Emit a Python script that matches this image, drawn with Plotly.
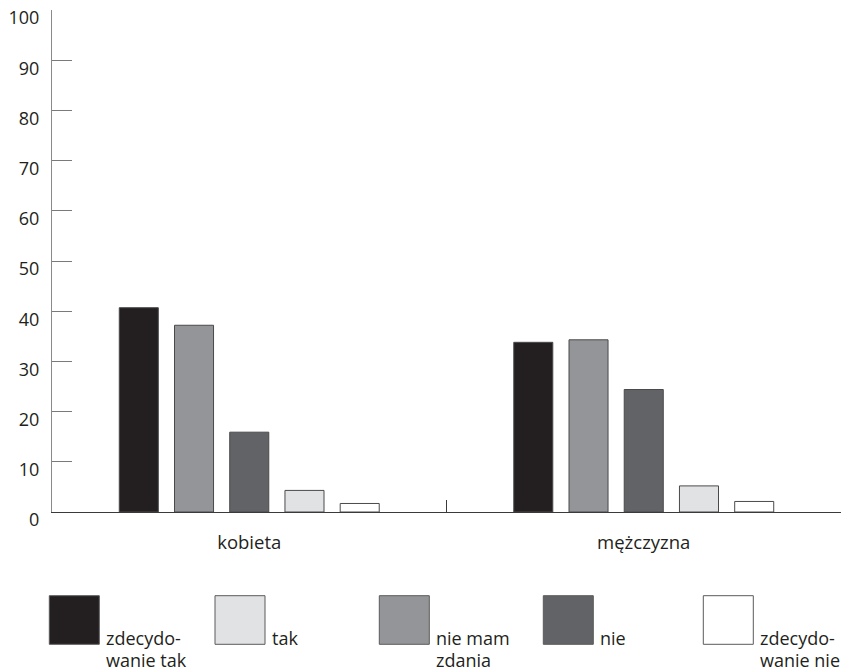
import plotly.graph_objects as go

# ---- data ----
categories = ["kobieta", "mężczyzna"]

# bar order within each group (as drawn in the reference)
series_names = ["zdecydowanie tak", "nie mam zdania", "nie", "tak", "zdecydowanie nie"]
zdecydowanie_tak = [40.7, 33.8]
nie_mam_zdania = [37.2, 34.3]
nie = [15.9, 24.4]
tak = [4.3, 5.2]
zdecydowanie_nie = [1.7, 2.1]
series_values = [zdecydowanie_tak, nie_mam_zdania, nie, tak, zdecydowanie_nie]

y_tickvals = list(range(0, 101, 10))

# legend (order as in the reference legend)
legend_series = ["zdecydowanie tak", "tak", "nie mam zdania", "nie", "zdecydowanie nie"]
legend_text = [["zdecydo-", "wanie tak"], ["tak"], ["nie mam", "zdania"], ["nie"], ["zdecydo-", "wanie nie"]]

# ---- styles ----
colors = {
    "zdecydowanie tak": "#231f20",
    "tak": "#e1e2e4",
    "nie mam zdania": "#939598",
    "nie": "#626366",
    "zdecydowanie nie": "#ffffff",
}
TEXT = "#231f20"
FONT = "Open Sans"

W, H = 847, 672
L, R, T, B = 52, 6, 10, 160
PW, PH = W - L - R, H - T - B


def px_x(px):
    return (px - L) / PW


def px_y(py):
    return (H - B - py) / PH


fig = go.Figure()
for name, vals in zip(series_names, series_values):
    fig.add_trace(go.Bar(
        x=categories, y=vals, name=name,
        marker=dict(color=colors[name], line=dict(color="#4a4a4a", width=1)),
        showlegend=False,
    ))

fig.update_layout(
    width=W, height=H,
    margin=dict(l=L, r=R, t=T, b=B, pad=0),
    paper_bgcolor="white", plot_bgcolor="white",
    barmode="group", bargap=0.30, bargroupgap=0.293,
    font=dict(family=FONT, size=18, color=TEXT),
)

fig.update_yaxes(
    range=[0, 100], tickvals=y_tickvals, showgrid=False, zeroline=False,
    showline=True, linecolor="#8a8a8a", linewidth=1,
    ticks="inside", ticklen=20, tickcolor="#7a7a7a", tickwidth=1,
    ticklabelshift=8, ticklabelstandoff=8,
    tickfont=dict(family=FONT, size=18, color=TEXT),
)
fig.update_xaxes(
    range=[-0.5, 1.5], showgrid=False, zeroline=False,
    showline=True, linecolor="#3a3a3a", linewidth=1,
    ticks="inside", tickson="boundaries", ticklen=12, tickcolor="#3a3a3a", tickwidth=1,
    ticklabelstandoff=14,
    tickfont=dict(family=FONT, size=18.5, color=TEXT),
)

# ---- manual legend ----
sw_left = [49.3, 215, 379.3, 543.3, 703.3]
sw_w, sw_top, sw_bot = 50, 595.7, 644.3
line_centers = [637.5, 659.5]
for i, name in enumerate(legend_series):
    x0 = sw_left[i]
    fig.add_shape(
        type="rect", xref="paper", yref="paper",
        x0=px_x(x0), x1=px_x(x0 + sw_w), y0=px_y(sw_bot), y1=px_y(sw_top),
        fillcolor=colors[name], line=dict(color="#5a5a5a", width=1),
    )
    for j, txt in enumerate(legend_text[i]):
        fig.add_annotation(
            xref="paper", yref="paper", x=px_x(x0 + sw_w + 6), y=px_y(line_centers[j]),
            text=txt, showarrow=False, xanchor="left", yanchor="middle",
            font=dict(family=FONT, size=18, color=TEXT), borderpad=0,
        )

fig.write_html(
    "out.html",
    config={"displayModeBar": False},
    post_script="document.body.style.margin='0';document.body.style.overflow='hidden';",
)
